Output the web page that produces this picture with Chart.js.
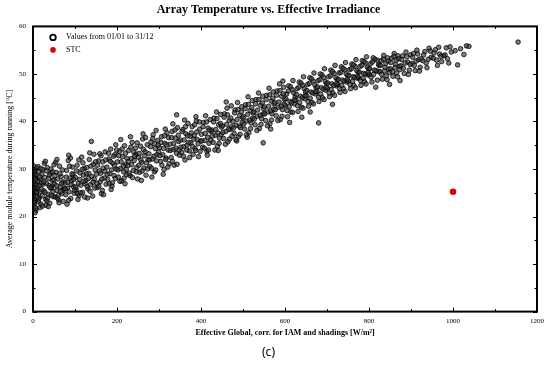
<!DOCTYPE html>
<html>
<head>
<meta charset="utf-8">
<script src="https://cdn.jsdelivr.net/npm/chart.js@4.4.1/dist/chart.umd.min.js"></script>
<style>
  html, body { margin: 0; padding: 0; background: #fff; }
  #wrap { width: 550px; height: 374px; }
</style>
</head>
<body>
<div id="wrap"><canvas id="myChart" width="550" height="374"></canvas></div>
<script>
// hourly values (irradiance W/m2, module temperature C)
var irradiance = [
  1,2,3,4,5,6,7,8,9,2,3,5,6,8,1,4,7,9,3,6,
  11,13,14,16,18,19,21,22,24,12,17,23,15,20,
  26,28,30,32,34,36,38,40,42,44,46,48,27,33,39,45,31,43,
  51,53,55,57,59,61,63,65,67,69,71,73,54,62,70,58,
  76,78,80,82,84,86,88,90,92,94,96,98,81,89,95,
  101,103,105,108,110,112,114,116,118,120,122,124,107,119,
  126,128,131,133,135,137,140,142,144,146,148,130,139,
  151,153,156,158,160,162,165,167,170,172,174,163,
  176,178,181,183,185,188,190,193,195,198,186,197,
  201,203,206,208,211,213,216,218,221,223,209,219,
  226,228,231,234,236,239,241,244,247,249,232,245,
  251,254,256,259,261,264,267,269,272,274,262,258,
  276,278,281,284,286,289,291,294,297,299,283,293,
  301,304,306,309,312,314,317,319,322,324,310,315,
  326,329,331,334,336,339,342,344,347,349,333,342,
  351,354,357,359,362,364,367,369,372,374,361,
  376,379,381,384,386,389,391,394,397,399,388,
  401,404,406,409,411,414,417,419,422,424,415,
  426,429,431,434,437,439,442,444,447,449,441,
  451,454,456,459,462,464,467,469,472,474,460,
  476,479,481,484,487,489,492,494,497,499,485,
  501,504,506,509,512,514,517,519,522,524,510,
  526,529,531,534,537,539,542,544,547,549,548,
  551,554,556,559,562,564,567,569,572,574,566,
  576,579,581,584,587,589,592,594,597,599,595,
  601,604,606,609,612,614,617,619,622,624,611,
  626,629,631,634,637,639,642,644,647,649,640,
  651,654,656,659,662,664,667,669,672,674,660,
  676,679,681,684,687,689,692,694,697,699,680,
  701,704,706,709,712,714,717,719,722,724,713,
  726,729,731,734,737,739,742,744,747,749,
  751,754,756,759,762,764,767,769,772,774,
  776,779,781,784,787,789,792,794,797,799,
  801,804,807,810,813,816,819,822,824,
  826,829,832,835,838,841,844,847,849,
  851,854,857,860,863,866,869,872,874,
  876,880,884,888,892,896,899,
  902,906,910,914,918,922,
  928,933,938,943,948,
  953,958,963,968,973,
  978,984,990,996,
  1005,1011,1018,1026,1032,1038,
  1155,
  0.5,2.5,4.5,6.5,8.5,10.5,13.5,16.5,19.5,22.5,1.5,5.5,9.5,14.5,18.5,
  25.5,28.5,31.5,34.5,37.5,40.5,43.5,46.5,49.5,29.5,36.5,47.5,
  52,56,60,64,68,72,74,50,57,66,
  77,79,83,85,87,91,93,97,99,85,
  102,104,106,109,111,113,117,121,123,
  127,129,132,134,136,138,143,145,147,149,
  152,154,157,159,161,164,166,168,171,173,
  177,180,182,184,187,189,192,194,196,199,
  202,204,207,210,212,215,217,220,222,224,
  227,229,233,235,237,240,242,246,248,
  252,253,257,260,263,265,268,270,273,
  277,280,282,285,288,290,292,295,298,
  302,305,307,311,313,316,318,321,323,
  327,330,332,335,338,340,343,346,348,
  352,355,358,360,363,366,368,371,373,
  377,380,383,385,387,390,393,396,398,
  402,405,408,410,413,416,418,420,423,
  427,430,433,435,438,440,443,446,448,
  452,455,458,461,463,466,468,471,473,
  477,480,483,486,488,491,493,496,498,
  502,505,508,511,513,516,518,521,523,
  527,530,533,535,538,541,543,546,548,
  552,555,558,561,563,566,568,571,573,
  577,580,583,586,588,591,593,596,598,
  602,605,608,610,613,616,618,621,623,
  627,630,633,635,638,641,643,646,648,
  652,655,658,660,663,666,668,671,673,
  677,680,683,685,688,691,693,696,698,
  702,705,708,710,713,716,718,721,723,
  727,730,733,735,738,741,743,746,748,
  752,755,758,761,763,766,768,771,773,
  777,780,783,786,788,791,793,796,798,
  802,805,808,811,814,817,820,823,
  827,830,834,837,840,843,846,849,
  852,856,859,862,865,868,871,873,
  878,882,886,890,894,898,
  904,908,912,916,920,924,
  930,936,941,946,
  955,961,966,971,
  981,987,993
];
var moduleTemp = [
  24.5,27.2,22.1,29.8,25.6,28.4,21.3,26.7,30.2,23.8,26.1,20.8,27.9,24.9,30.7,22.9,28.8,25.3,29.1,23.4,
  26.3,23.1,29.4,25.2,27.8,22.6,28.9,24.4,26.8,30.5,21.9,29.9,24.0,27.1,
  25.4,28.2,23.6,27.0,30.3,24.7,26.5,22.8,29.1,25.9,27.6,24.2,31.2,23.3,28.7,26.4,22.4,30.0,
  26.8,24.1,29.3,25.5,27.9,23.5,30.6,26.2,28.4,24.8,27.3,25.7,31.4,22.9,29.8,23.9,
  27.1,24.6,29.7,26.0,31.8,25.2,28.1,23.8,27.5,30.4,26.3,24.9,22.6,32.3,28.8,
  28.2,25.7,30.8,27.0,24.4,29.2,26.6,32.5,25.1,28.7,30.1,26.9,23.6,31.3,
  27.6,30.3,25.8,29.1,33.4,26.7,28.4,24.3,31.0,27.9,29.8,23.9,35.8,
  28.9,26.1,31.7,29.6,27.3,32.8,25.5,30.2,28.1,33.6,26.8,24.8,
  30.4,27.8,32.1,29.0,34.2,26.4,31.2,28.6,33.0,30.0,25.7,35.1,
  31.5,28.3,33.7,30.1,27.5,32.6,29.4,34.9,31.0,28.8,36.2,26.9,
  30.7,33.9,28.6,32.2,35.6,29.7,31.8,34.4,30.3,27.9,36.8,33.1,
  32.5,29.3,34.8,31.4,36.3,30.2,33.6,28.7,35.1,32.0,37.4,27.6,
  33.2,30.5,35.7,32.1,37.2,29.4,34.3,31.7,36.0,33.6,28.3,38.1,
  34.5,31.6,36.8,33.0,29.9,35.4,32.3,37.6,34.0,31.1,28.9,38.4,
  35.2,32.4,37.9,34.1,30.8,36.5,33.3,38.7,35.8,32.9,39.5,41.4,
  36.1,33.5,38.3,34.7,31.9,37.4,35.0,39.6,33.8,36.9,40.3,
  35.5,38.9,33.1,37.0,34.3,40.1,36.2,32.6,38.4,35.9,41.0,
  37.3,34.6,39.8,36.0,41.2,33.7,38.6,35.4,40.4,37.9,32.9,
  38.2,35.6,40.7,37.1,42.0,34.8,39.3,36.5,41.5,38.8,33.9,
  39.1,36.4,41.6,37.9,42.8,35.7,40.2,38.3,43.3,36.9,44.1,
  40.0,37.5,42.4,39.2,44.0,36.8,41.3,38.7,43.1,40.8,35.9,
  41.0,38.4,43.5,40.1,45.2,37.6,42.3,39.7,44.4,41.8,36.7,
  42.0,39.3,44.6,41.1,46.0,38.5,43.4,40.6,45.3,42.7,35.5,
  43.1,40.2,45.5,42.0,47.0,39.5,44.3,41.6,46.2,43.7,38.4,
  44.0,41.2,46.4,43.0,47.9,40.4,45.3,42.5,47.2,44.6,48.5,
  43.4,45.8,41.0,47.5,44.2,42.0,46.7,48.6,43.7,45.1,39.8,
  44.5,46.9,42.1,48.3,45.3,43.0,47.6,49.4,44.8,46.2,40.9,
  45.4,47.8,43.2,49.2,46.2,44.0,48.5,50.2,45.8,47.1,42.0,
  46.3,48.6,44.2,50.0,47.1,45.0,49.3,51.1,46.6,48.0,39.7,
  47.0,49.4,45.2,50.8,47.9,46.0,50.1,51.8,47.5,48.8,43.6,
  47.8,50.2,46.1,51.5,48.7,46.9,50.9,52.4,48.3,49.6,
  48.5,50.9,46.9,52.1,49.4,47.6,51.6,53.0,49.1,50.4,
  49.2,51.6,47.6,52.8,50.1,48.4,52.3,53.6,49.8,51.1,
  49.9,52.2,48.3,53.4,50.8,47.2,52.9,50.5,51.8,
  50.5,52.8,48.9,53.9,51.4,49.6,53.4,51.0,47.8,
  51.1,53.3,49.5,54.3,52.0,50.2,53.8,51.6,48.6,
  51.7,53.8,50.1,54.6,52.5,50.8,54.0,
  52.2,54.3,50.7,55.0,53.0,51.4,
  52.8,54.7,51.3,55.4,53.5,
  53.3,55.1,51.8,54.2,52.6,
  53.8,55.5,52.3,54.6,
  54.9,51.9,55.3,54.1,55.9,55.8,
  56.7,
  26.0,23.0,28.0,21.8,25.0,27.4,23.7,28.3,25.8,22.2,29.5,27.6,24.1,26.5,30.1,
  27.3,25.1,29.6,23.9,28.0,26.1,24.5,29.4,27.7,31.6,22.1,25.3,
  28.6,26.5,24.4,29.0,27.0,23.2,26.0,30.9,32.0,25.3,
  25.8,28.3,27.2,23.4,30.6,26.7,29.0,27.8,25.5,32.9,
  26.2,29.6,24.8,31.9,27.8,25.0,29.9,27.4,24.1,
  29.0,26.3,28.0,32.0,25.3,30.6,27.2,33.1,26.0,31.5,
  27.0,30.8,26.4,33.2,29.1,27.9,31.5,24.6,29.5,31.9,
  28.9,33.3,26.9,31.6,29.8,27.1,32.7,30.7,28.0,34.0,
  29.8,32.8,27.4,31.5,34.2,30.6,28.1,33.3,29.9,32.2,
  31.6,29.1,34.6,30.9,28.2,33.6,32.7,29.4,35.5,
  30.8,33.3,31.9,29.6,34.1,32.8,36.6,31.3,30.0,
  31.9,34.7,30.2,36.4,32.7,35.3,29.8,33.0,35.0,
  32.8,35.6,30.8,34.3,37.0,32.0,35.1,30.4,36.6,
  33.9,36.6,31.6,35.4,38.2,34.4,31.0,37.1,34.0,
  34.6,37.9,32.7,36.1,38.9,34.0,37.0,35.6,32.4,
  37.6,34.7,36.3,39.3,33.9,37.8,35.3,39.9,33.7,
  35.9,38.9,34.4,37.5,39.9,36.7,34.0,38.2,36.1,
  36.9,39.9,34.0,38.3,40.6,37.6,35.4,39.6,37.2,
  37.7,40.9,35.2,39.4,41.4,38.4,36.3,40.7,38.9,
  38.6,41.8,36.2,40.4,42.5,39.0,37.3,42.0,39.8,
  39.5,42.7,37.2,41.5,43.6,40.3,38.5,42.9,40.7,
  40.5,43.7,38.1,42.4,44.6,41.3,39.4,43.9,41.6,
  41.6,44.6,39.1,43.2,45.6,42.2,40.3,44.9,42.6,
  42.5,45.5,40.2,44.1,46.5,43.2,41.1,45.8,43.6,
  44.8,42.3,46.4,43.1,47.3,44.0,41.9,46.0,44.5,
  45.7,43.3,47.2,44.0,48.1,45.0,42.8,46.9,45.4,
  46.5,44.2,48.0,44.9,49.0,46.0,43.7,47.7,46.3,
  47.3,45.1,48.8,45.8,49.8,46.8,44.6,48.4,47.2,
  48.1,46.0,49.6,46.7,50.5,47.6,45.5,49.2,48.0,
  48.9,46.9,50.3,47.6,51.2,48.5,46.3,50.0,48.8,
  49.7,47.8,51.1,48.4,51.9,49.3,47.1,50.7,49.5,
  50.4,48.6,51.8,49.1,52.6,50.0,47.9,51.4,50.3,
  51.1,49.3,52.5,49.9,53.1,50.7,48.7,52.0,
  51.8,49.9,53.1,50.6,52.2,48.8,52.7,50.3,
  52.4,50.5,53.7,51.3,52.9,49.4,53.2,50.9,
  53.0,51.2,52.3,53.6,49.9,52.0,
  53.5,51.8,52.7,54.2,50.6,53.2,
  54.0,52.3,53.1,54.8,
  54.4,52.9,55.6,53.7,
  54.0,53.2,55.7
];
// STC reference point
var stcIrradiance = [1000];
var stcTemp = [25.2];

var xTicks = [0, 200, 400, 600, 800, 1000, 1200];
var yTicks = [0, 10, 20, 30, 40, 50, 60];

var serif = "'Liberation Serif', 'Times New Roman', serif";

var values = irradiance.map(function (x, i) { return { x: x, y: moduleTemp[i] }; });
var stc = stcIrradiance.map(function (x, i) { return { x: x, y: stcTemp[i] }; });

// frame, inward ticks and the legend inside the plot
var framePlugin = {
    id: 'frame',
    afterDraw: function (chart) {
        var c = chart.ctx, a = chart.chartArea;
        var xs = chart.scales.x, ys = chart.scales.y;
        c.save();
        c.strokeStyle = '#000';
        c.lineWidth = 1;
        for (var v = 0; v <= 1200; v += 100) {
            var px = Math.round(xs.getPixelForValue(v)) + 0.5;
            var len = v % 200 === 0 ? 4 : 2.5;
            c.beginPath();
            c.moveTo(px, a.bottom); c.lineTo(px, a.bottom - len);
            c.moveTo(px, a.top); c.lineTo(px, a.top + len);
            c.stroke();
        }
        for (var w = 0; w <= 60; w += 5) {
            var py = Math.round(ys.getPixelForValue(w)) + 0.5;
            var l2 = w % 10 === 0 ? 4 : 2.5;
            c.beginPath();
            c.moveTo(a.left, py); c.lineTo(a.left + l2, py);
            c.moveTo(a.right, py); c.lineTo(a.right - l2, py);
            c.stroke();
        }
        c.lineWidth = 2;
        c.strokeRect(a.left, a.top, a.right - a.left, a.bottom - a.top);

        // legend
        c.font = '8px ' + serif;
        c.textBaseline = 'middle';
        c.fillStyle = '#000';
        var items = [chart.data.datasets[1], chart.data.datasets[0]];
        items.forEach(function (ds, i) {
            var lx = a.left + 20, ly = a.top + 11 + i * 12.5;
            c.beginPath();
            c.arc(lx, ly, 2.8, 0, Math.PI * 2);
            if (ds.legendFill) {
                c.fillStyle = ds.legendFill;
                c.fill();
            } else {
                c.lineWidth = 1.8;
                c.strokeStyle = '#000';
                c.stroke();
            }
            c.fillStyle = '#000';
            c.fillText(ds.label, lx + 13, ly);
        });
        c.restore();
    }
};

var ctx = document.getElementById('myChart').getContext('2d');
var chart = new Chart(ctx, {
    type: 'scatter',
    data: {
        datasets: [{
            label: 'STC',
            data: stc,
            pointRadius: 3.3,
            borderWidth: 0,
            backgroundColor: '#e00000',
            legendFill: '#e00000'
        }, {
            label: 'Values from 01/01 to 31/12',
            data: values,
            pointRadius: 2.3,
            borderWidth: 0.9,
            borderColor: 'rgba(0,0,0,0.85)',
            backgroundColor: 'rgba(55,55,55,0.65)'
        }]
    },
    options: {
        responsive: false,
        animation: false,
        layout: { padding: { top: 0, right: 13, bottom: 0, left: 0 } },
        plugins: {
            legend: { display: false },
            tooltip: { enabled: false },
            title: {
                display: true,
                text: 'Array Temperature vs. Effective Irradiance',
                color: '#000',
                font: { family: serif, size: 12, weight: 'bold' },
                padding: { top: 3, bottom: 9 }
            },
            subtitle: {
                display: true,
                position: 'bottom',
                text: '(c)',
                color: '#000',
                font: { family: "'Noto Sans', sans-serif", size: 12 },
                padding: { top: 0, bottom: 14 }
            }
        },
        scales: {
            x: {
                type: 'linear',
                min: 0,
                max: 1200,
                afterFit: function (s) { s.height = 34; },
                afterBuildTicks: function (s) { s.ticks = xTicks.map(function (v) { return { value: v }; }); },
                grid: { display: false, drawTicks: false },
                border: { display: false },
                ticks: {
                    color: '#000', padding: 5, maxRotation: 0,
                    font: { family: serif, size: 7 },
                    callback: function (v) { return String(v); }
                },
                title: {
                    display: true,
                    text: 'Effective Global, corr. for IAM and shadings [W/m²]',
                    color: '#000',
                    font: { family: serif, size: 8, weight: 'bold' },
                    padding: { top: 0, bottom: 8 }
                }
            },
            y: {
                min: 0,
                max: 60,
                afterFit: function (s) { s.width = 33; },
                afterBuildTicks: function (s) { s.ticks = yTicks.map(function (v) { return { value: v }; }); },
                grid: { display: false, drawTicks: false },
                border: { display: false },
                ticks: { color: '#000', padding: 7, font: { family: serif, size: 7 } },
                title: {
                    display: true,
                    text: 'Average module temperature during running [°C]',
                    color: '#000',
                    font: { family: serif, size: 8 },
                    padding: { top: 5, bottom: 0 }
                }
            }
        }
    },
    plugins: [framePlugin]
});
</script>
</body>
</html>
